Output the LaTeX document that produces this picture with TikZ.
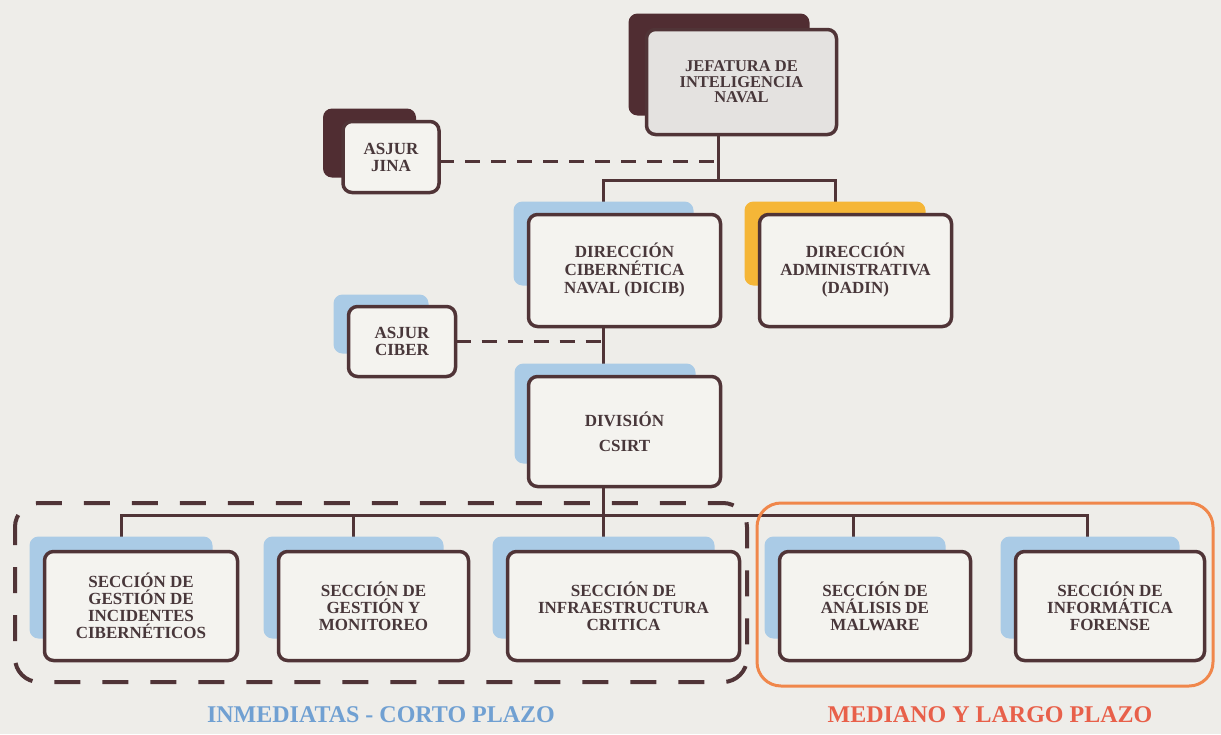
\documentclass[tikz,border=0pt]{standalone}
\usepackage{fontspec}
\setmainfont{Liberation Serif}
\definecolor{bgc}{RGB}{238,237,233}
\definecolor{brn}{RGB}{80,52,55}
\definecolor{txt}{RGB}{72,55,58}
\definecolor{frontc}{RGB}{244,243,239}
\definecolor{jefc}{RGB}{228,226,224}
\definecolor{shblue}{RGB}{170,203,230}
\definecolor{shorange}{RGB}{245,182,55}
\definecolor{shdark}{RGB}{80,45,50}
\definecolor{orframe}{RGB}{240,135,75}
\definecolor{lblue}{RGB}{112,160,210}
\definecolor{lred}{RGB}{232,96,74}
\pgfdeclarelayer{back}
\pgfdeclarelayer{bg}
\pgfdeclarelayer{sh}
\pgfsetlayers{back,bg,sh,main}
\newcommand\shd[6]{\fill[#2, rounded corners=9pt] ([shift={(#3,#4)}]#1.north west) rectangle ([shift={(#5,#6)}]#1.south east);}
\begin{document}
\begin{tikzpicture}[x=1pt,y=-1pt,
  box/.style={draw=brn, line width=3.5pt, rounded corners=9pt, fill=frontc,
    inner sep=0pt, outer sep=0pt, align=center, text=txt,
    font=\bfseries\fontsize{17}{17}\selectfont},
  conn/.style={draw=brn, line width=3pt},
  dconn/.style={draw=brn, line width=3pt, dash pattern=on 15pt off 11pt},
  lab/.style={inner sep=0pt, font=\bfseries\fontsize{24}{24}\selectfont}]
\begin{pgfonlayer}{back}
\fill[bgc] (0,0) rectangle (1221,734);
\end{pgfonlayer}
\useasboundingbox (0,0) rectangle (1221,734);

% nodes
\node[box, fill=jefc, minimum width=190pt, minimum height=105pt,
  font=\bfseries\fontsize{16.5}{15.5}\selectfont] (jef) at (741.5,82) {JEFATURA DE\\INTELIGENCIA\\NAVAL};
\node[box, minimum width=96pt, minimum height=71pt] (jina) at (391,157) {ASJUR\\JINA};
\node[box, minimum width=192pt, minimum height=112pt,
  font=\bfseries\fontsize{17}{18}\selectfont] (dicib) at (624.5,270.5) {DIRECCIÓN\\CIBERNÉTICA\\NAVAL (DICIB)};
\node[box, minimum width=192pt, minimum height=112pt,
  font=\bfseries\fontsize{17}{18}\selectfont] (dadin) at (855.5,270.5) {DIRECCIÓN\\ADMINISTRATIVA\\(DADIN)};
\node[box, minimum width=107pt, minimum height=70pt] (ciber) at (402,341.5) {ASJUR\\CIBER};
\node[box, minimum width=192pt, minimum height=110pt,
  font=\bfseries\fontsize{17}{25}\selectfont] (csirt) at (624.5,431.5) {DIVISIÓN\\CSIRT};
\node[box, minimum width=193pt, minimum height=109pt] (s1) at (141,606) {SECCIÓN DE\\GESTIÓN DE\\INCIDENTES\\CIBERNÉTICOS};
\node[box, minimum width=190pt, minimum height=109pt] (s2) at (373.5,606) {SECCIÓN DE\\GESTIÓN Y\\MONITOREO};
\node[box, minimum width=232pt, minimum height=109pt] (s3) at (623.5,606) {SECCIÓN DE\\INFRAESTRUCTURA\\CRITICA};
\node[box, minimum width=191pt, minimum height=109pt] (s4) at (875,606) {SECCIÓN DE\\ANÁLISIS DE\\MALWARE};
\node[box, minimum width=189pt, minimum height=109pt] (s5) at (1110,606) {SECCIÓN DE\\INFORMÁTICA\\FORENSE};

\node[lab, text=lblue] (l1) at (381,715) {INMEDIATAS - CORTO PLAZO};
\node[lab, text=lred] (l2) at (990,715) {MEDIANO Y LARGO PLAZO};

% shadows
\begin{pgfonlayer}{sh}
\shd{jef}{shdark}{-18}{-16}{-27}{-19}
\shd{jina}{shdark}{-20}{-13}{-23}{-15}
\shd{dicib}{shblue}{-15}{-13}{-27}{-41}
\shd{dadin}{shorange}{-15}{-13}{-26}{-41}
\shd{ciber}{shblue}{-15}{-12}{-27}{-23}
\shd{csirt}{shblue}{-14}{-13}{-25}{-23}
\shd{s1}{shblue}{-15}{-15}{-25}{-22}
\shd{s2}{shblue}{-15}{-15}{-25}{-22}
\shd{s3}{shblue}{-15}{-15}{-25}{-22}
\shd{s4}{shblue}{-15}{-15}{-25}{-22}
\shd{s5}{shblue}{-15}{-15}{-25}{-22}
\end{pgfonlayer}

% connectors
\coordinate (jt) at (718,180);
\coordinate (dx) at (603,0);
\coordinate (ax) at (835,0);
\coordinate (jd) at (0,161);
\coordinate (by) at (0,515);
\coordinate (c1) at (121,0);
\coordinate (c2) at (353,0);
\coordinate (c4) at (853,0);
\coordinate (c5) at (1087,0);
\begin{pgfonlayer}{bg}
\draw[conn] (jef.south -| jt) -- (jt);
\draw[conn] (dicib.north -| dx) -- (dx |- jt) -- (ax |- jt) -- (dadin.north -| ax);
\draw[dconn] (jina.east |- jd) -- (jt |- jd);
\draw[dconn] (ciber.east) -- (ciber.east -| dx);
\draw[conn] (dicib.south -| dx) -- (csirt.north -| dx);
\draw[conn] (csirt.south -| dx) -- (s3.north -| dx);
\draw[conn] (s1.north -| c1) -- (c1 |- by) -- (c5 |- by) -- (s5.north -| c5);
\draw[conn] (c2 |- by) -- (s2.north -| c2);
\draw[conn] (c4 |- by) -- (s4.north -| c4);
% groups
\draw[brn, line width=4pt, dash pattern=on 26pt off 22pt, dash phase=8pt, rounded corners=24pt]
  (15,503) rectangle (747,682);
\draw[orframe, line width=3pt, rounded corners=24pt] (757,503) rectangle (1213,686);
\end{pgfonlayer}
\end{tikzpicture}
\end{document}
